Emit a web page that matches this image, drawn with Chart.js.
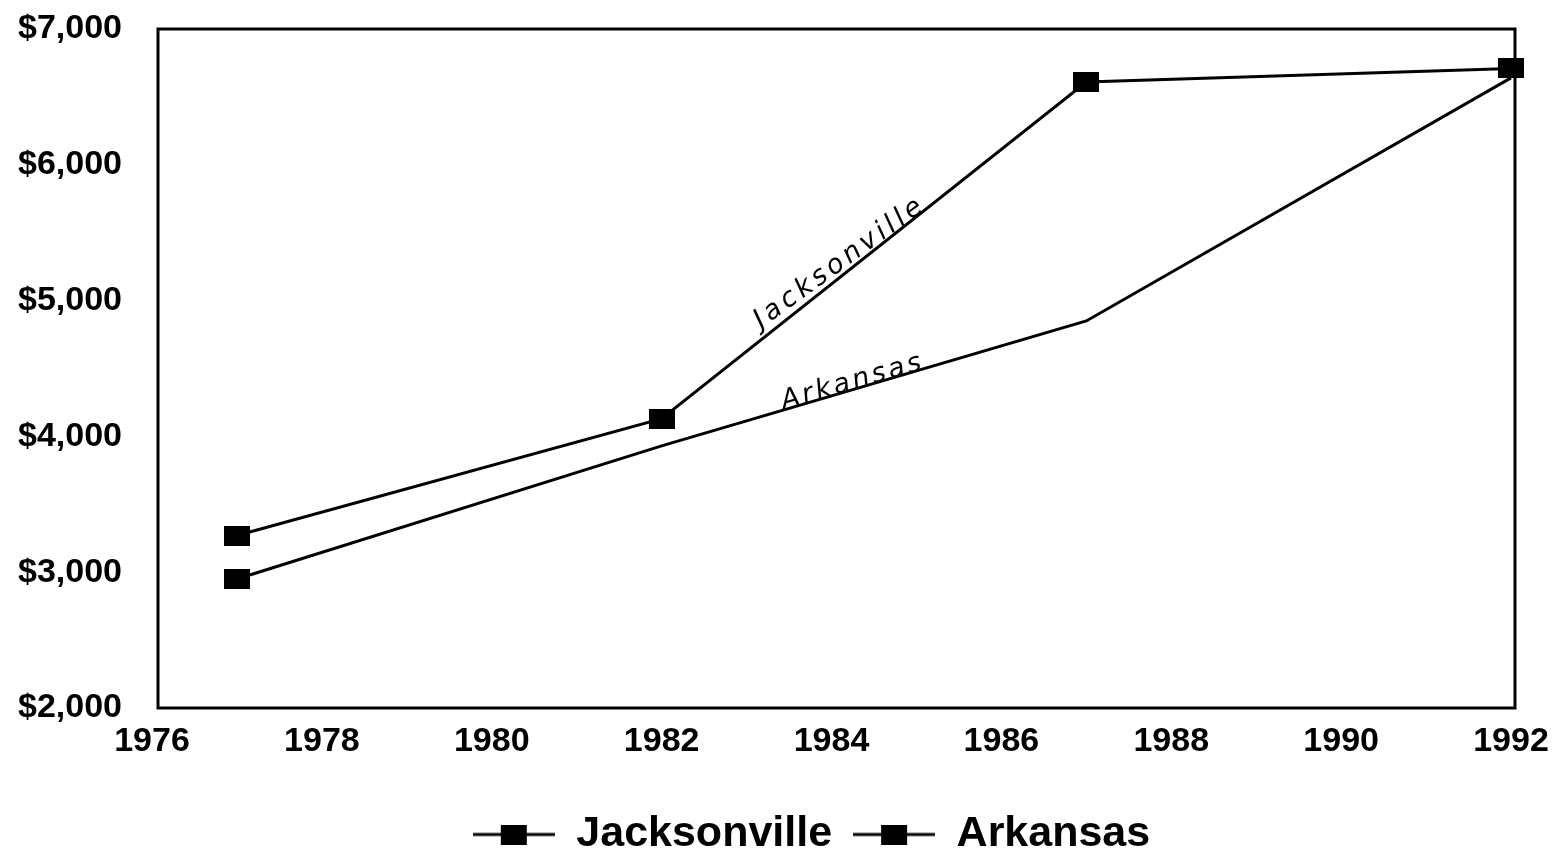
<!DOCTYPE html>
<html><head><meta charset="utf-8">
<script src="https://cdn.jsdelivr.net/npm/chart.js@4"></script>
<style>html,body{margin:0;padding:0;background:#fff}#wrap{width:1556px;height:851px;position:relative}</style>
</head><body><div id="wrap"><canvas id="c"></canvas></div>
<script>
// ---- data ----
const years = [1977, 1982, 1987, 1992];
const jacksonville = [3270, 4130, 6610, 6710];
const arkansas = [2950, 3930, 4850, 6640];
const jacksonvilleMarkers = [true, true, true, true];
const arkansasMarkers = [true, false, false, false];
const seriesNames = ['Jacksonville', 'Arkansas'];
const xRange = [1976, 1992];
const xStep = 2;
const yRange = [2000, 7000];
const yStep = 1000;
const notes = [
  {text: 'Jacksonville', x: 1984.1, y: 5280, angle: -36, spacing: 4},
  {text: 'Arkansas', x: 1984.25, y: 4400, angle: -16, spacing: 3}
];

// ---- marker images ----
function makeMarker(w, h) {
  const c = document.createElement('canvas'); c.width = w; c.height = h;
  const g = c.getContext('2d'); g.fillStyle = '#000'; g.fillRect(0, 0, w, h);
  return c;
}
function makeLegendIcon(w, h, mw) {
  const c = document.createElement('canvas'); c.width = w; c.height = h;
  const g = c.getContext('2d'); g.fillStyle = '#000';
  g.fillRect(0, h / 2 - 1.5, w, 3);
  g.fillRect((w - mw) / 2, 0, mw, h);
  return c;
}
const marker = makeMarker(26, 20);
const legendIcon = makeLegendIcon(82, 20, 26);

const toPoints = vals => years.map((yr, i) => ({x: yr, y: vals[i]}));

const framePlugin = {
  id: 'frame',
  beforeDatasetsDraw(chart) {
    const a = chart.chartArea, ctx = chart.ctx;
    ctx.save();
    ctx.strokeStyle = '#000'; ctx.lineWidth = 3;
    ctx.strokeRect(a.left + 6, a.top, a.right - a.left - 2, a.bottom - a.top);
    ctx.restore();
  }
};
const legendShiftPlugin = {
  id: 'legendShift',
  afterLayout(chart) {
    const L = chart.legend;
    if (L) { L.left += 56; L.right += 56; }
  }
};
const notesPlugin = {
  id: 'notes',
  afterDatasetsDraw(chart) {
    const ctx = chart.ctx, xs = chart.scales.x, ys = chart.scales.y;
    ctx.save();
    ctx.fillStyle = '#000';
    ctx.font = 'italic 27px "DejaVu Sans"';
    ctx.textAlign = 'center'; ctx.textBaseline = 'middle';
    notes.forEach(n => {
      ctx.save();
      ctx.letterSpacing = n.spacing + 'px';
      ctx.translate(xs.getPixelForValue(n.x), ys.getPixelForValue(n.y));
      ctx.rotate(n.angle * Math.PI / 180);
      ctx.fillText(n.text, 0, 0);
      ctx.restore();
    });
    ctx.restore();
  }
};

const tickFont = {family: '"Liberation Sans", Arial, sans-serif', weight: 'bold', size: 34};

new Chart(document.getElementById('c'), {
  type: 'line',
  data: {
    datasets: [
      {
        label: seriesNames[0], data: toPoints(jacksonville),
        borderColor: '#000', backgroundColor: '#000', borderWidth: 3, tension: 0,
        pointStyle: marker, pointRadius: jacksonvilleMarkers.map(m => m ? 13 : 0),
        pointHoverRadius: jacksonvilleMarkers.map(m => m ? 13 : 0), clip: false
      },
      {
        label: seriesNames[1], data: toPoints(arkansas),
        borderColor: '#000', backgroundColor: '#000', borderWidth: 3, tension: 0,
        pointStyle: marker, pointRadius: arkansasMarkers.map(m => m ? 13 : 0),
        pointHoverRadius: arkansasMarkers.map(m => m ? 13 : 0), clip: false
      }
    ]
  },
  options: {
    responsive: true, maintainAspectRatio: false, animation: false,
    devicePixelRatio: 1,
    layout: {padding: {left: 0, right: 45, top: 29, bottom: -15}},
    plugins: {
      tooltip: {enabled: false},
      legend: {
        position: 'bottom',
        labels: {
          usePointStyle: true, pointStyle: legendIcon, pointStyleWidth: 82,
          padding: 21, color: '#000',
          font: {family: '"Liberation Sans", Arial, sans-serif', weight: 'bold', size: 43}
        }
      }
    },
    scales: {
      x: {
        type: 'linear', min: xRange[0], max: xRange[1],
        ticks: {stepSize: xStep, callback: v => String(v), font: tickFont, color: '#000',
                padding: 13, maxRotation: 0, autoSkip: false},
        grid: {display: false, drawTicks: false}, border: {display: false},
        afterFit: s => { s.height = 84; s.paddingLeft = 0; s.paddingRight = 0; }
      },
      y: {
        min: yRange[0], max: yRange[1],
        ticks: {stepSize: yStep, callback: v => '$' + v.toLocaleString('en-US'), font: tickFont,
                color: '#000', padding: 30},
        grid: {display: false, drawTicks: false}, border: {display: false},
        afterFit: s => { s.width = 152; s.paddingTop = 0; s.paddingBottom = 0; }
      }
    }
  },
  plugins: [framePlugin, legendShiftPlugin, notesPlugin]
});
</script></body></html>
